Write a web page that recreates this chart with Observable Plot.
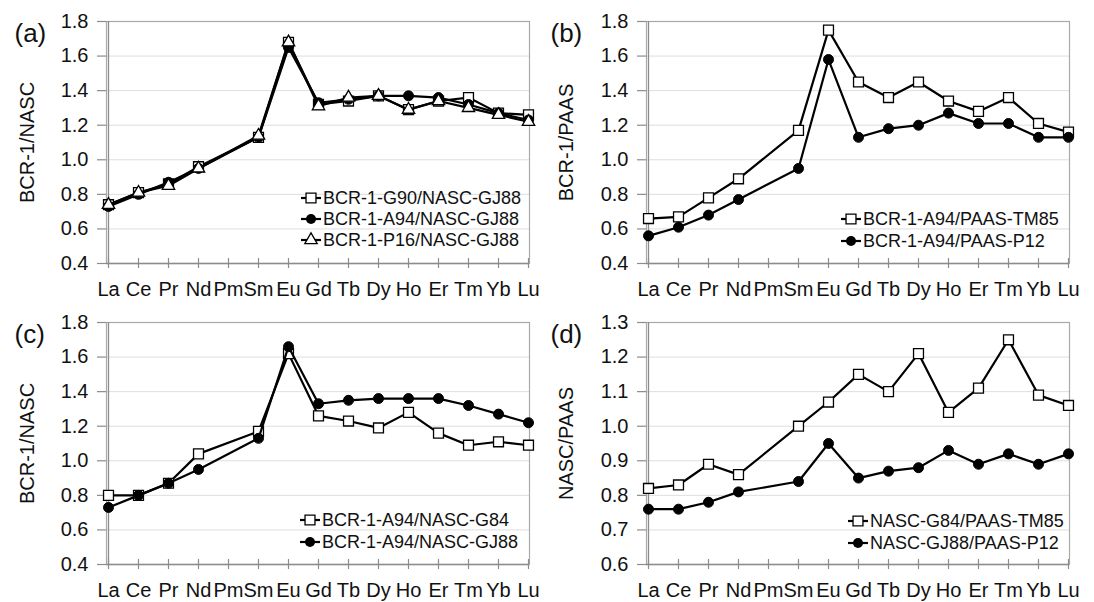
<!DOCTYPE html>
<html><head><meta charset="utf-8">
<script src="https://cdn.jsdelivr.net/npm/d3@7"></script>
<script src="https://cdn.jsdelivr.net/npm/@observablehq/plot@0.6"></script>
<style>
body{margin:0;background:#fff;}
#chart{position:relative;width:1094px;height:602px;background:#fff;font-family:"Liberation Sans",Arial,sans-serif;}
.panel{position:absolute;}
</style></head><body><div id="chart"></div>
<script>
const elements = ["La","Ce","Pr","Nd","Pm","Sm","Eu","Gd","Tb","Dy","Ho","Er","Tm","Yb","Lu"];

const ticksBCR = [0.4,0.6,0.8,1.0,1.2,1.4,1.6,1.8];
const ticksNASC = [0.6,0.7,0.8,0.9,1.0,1.1,1.2,1.3];

const a_G90 = [0.74,0.81,0.86,0.96,null,1.13,1.68,1.32,1.34,1.37,1.29,1.34,1.36,1.27,1.26];
const a_A94 = [0.73,0.80,0.87,0.95,null,1.13,1.65,1.33,1.35,1.37,1.37,1.36,1.32,1.27,1.23];
const a_P16 = [0.74,0.81,0.85,0.95,null,1.14,1.68,1.31,1.36,1.37,1.29,1.34,1.30,1.26,1.22];

const b_TM85 = [0.66,0.67,0.78,0.89,null,1.17,1.75,1.45,1.36,1.45,1.34,1.28,1.36,1.21,1.16];
const b_P12  = [0.56,0.61,0.68,0.77,null,0.95,1.58,1.13,1.18,1.20,1.27,1.21,1.21,1.13,1.13];

const c_G84  = [0.80,0.80,0.87,1.04,null,1.17,1.62,1.26,1.23,1.19,1.28,1.16,1.09,1.11,1.09];
const c_GJ88 = [0.73,0.80,0.87,0.95,null,1.13,1.66,1.33,1.35,1.36,1.36,1.36,1.32,1.27,1.22];

const d_TM85 = [0.82,0.83,0.89,0.86,null,1.00,1.07,1.15,1.10,1.21,1.04,1.11,1.25,1.09,1.06];
const d_P12  = [0.76,0.76,0.78,0.81,null,0.84,0.95,0.85,0.87,0.88,0.93,0.89,0.92,0.89,0.92];

const FONT = '"Liberation Sans", Arial, sans-serif';
const AXIS = "#8c8c8c";

const panels = [
  {tag:"(a)", left:0, top:0, ml:106, mr:18, tagX:14, labX:27, ylabel:"BCR-1/NASC", domain:[0.4,1.8], ticks:ticksBCR,
   series:[
     {name:"BCR-1-G90/NASC-GJ88", values:a_G90, symbol:"square"},
     {name:"BCR-1-A94/NASC-GJ88", values:a_A94, symbol:"circle"},
     {name:"BCR-1-P16/NASC-GJ88", values:a_P16, symbol:"triangle"}],
   legend:{x0:301, rows:[198,219,240]}},
  {tag:"(b)", left:547, top:0, ml:99, mr:25, tagX:3, labX:19, ylabel:"BCR-1/PAAS", domain:[0.4,1.8], ticks:ticksBCR,
   series:[
     {name:"BCR-1-A94/PAAS-TM85", values:b_TM85, symbol:"square"},
     {name:"BCR-1-A94/PAAS-P12", values:b_P12, symbol:"circle"}],
   legend:{x0:294, rows:[219,241]}},
  {tag:"(c)", left:0, top:301, ml:106, mr:18, tagX:14, labX:27, ylabel:"BCR-1/NASC", domain:[0.4,1.8], ticks:ticksBCR,
   series:[
     {name:"BCR-1-A94/NASC-G84", values:c_G84, symbol:"square"},
     {name:"BCR-1-A94/NASC-GJ88", values:c_GJ88, symbol:"circle"}],
   legend:{x0:300, rows:[219,241]}},
  {tag:"(d)", left:547, top:301, ml:99, mr:25, tagX:3, labX:19, ylabel:"NASC/PAAS", domain:[0.6,1.3], ticks:ticksNASC,
   series:[
     {name:"NASC-G84/PAAS-TM85", values:d_TM85, symbol:"square"},
     {name:"NASC-GJ88/PAAS-P12", values:d_P12, symbol:"circle"}],
   legend:{x0:301, rows:[220,242]}}
];

function dotStyle(sym){
  if (sym === "circle") return {symbol:"circle", r:5, fill:"black", stroke:"black", strokeWidth:1};
  if (sym === "square") return {symbol:"square", r:5.6, fill:"white", stroke:"black", strokeWidth:1.3};
  return {symbol:"triangle", r:4.6, fill:"white", stroke:"black", strokeWidth:1.3};
}

function drawPanel(p){
  const W = 547, H = 301, mt = 21, mb = 38;
  const innerH = H - mt - mb;
  const seriesMarks = [];
  for (const s of p.series) {
    const rows = elements.map((el, i) => ({el, v: s.values[i]})).filter(d => d.v != null);
    seriesMarks.push(Plot.line(rows, {x:"el", y:"v", stroke:"black", strokeWidth:2.2}));
    seriesMarks.push(Plot.dot(rows, {x:"el", y:"v", ...dotStyle(s.symbol)}));
  }
  const svg = Plot.plot({
    width: W, height: H,
    marginLeft: p.ml, marginRight: p.mr, marginTop: mt, marginBottom: mb,
    style: {fontFamily: FONT, fontSize: "20px", color: "#111", background: "white", overflow: "visible"},
    x: {type:"point", domain: elements, padding: 0, axis: null},
    y: {domain: p.domain, axis: null},
    marks: [
      Plot.gridY(p.ticks, {stroke:"#dedede", strokeOpacity:1, strokeWidth:1}),
      Plot.frame({stroke:"#a9a9a9", strokeWidth:1.2}),
      Plot.ruleX([elements[0]], {stroke:AXIS, strokeWidth:1.3}),
      Plot.ruleY([p.domain[0]], {stroke:AXIS, strokeWidth:1.3}),
      Plot.tickX(elements, {x:d=>d, stroke:AXIS, strokeWidth:1.2, insetTop: innerH - 5}),
      Plot.axisX(elements, {tickSize:5, tickPadding:13, stroke:AXIS, strokeWidth:1.2, fill:"#111", fontSize:20, label:null}),
      Plot.axisY(p.ticks, {tickSize:9, tickPadding:9, tickFormat:d3.format(".1f"), stroke:AXIS, strokeWidth:1.2, fill:"#111", fontSize:20, label:null}),
      ...seriesMarks,
      Plot.text([p.ylabel], {frameAnchor:"left", dx: p.labX - p.ml, rotate:-90, text:d=>d, fontSize:20, textAnchor:"middle", fill:"#111"}),
      Plot.text([p.tag], {frameAnchor:"top-left", dx: p.tagX - p.ml, dy: 2, text:d=>d, fontSize:26, textAnchor:"start", fill:"#111"})
    ]
  });
  svg.classList.add("panel");
  svg.style.left = p.left + "px";
  svg.style.top = p.top + "px";

  // legend
  const g = d3.select(svg).append("g").attr("class","legend").attr("text-anchor","start");
  p.series.forEach((s, i) => {
    const y = p.legend.rows[i], x0 = p.legend.x0, x1 = x0 + 20, cx = x0 + 10;
    g.append("line").attr("x1", x0).attr("x2", x1).attr("y1", y).attr("y2", y)
      .attr("stroke","black").attr("stroke-width",2.2);
    const st = dotStyle(s.symbol);
    if (s.symbol === "circle") {
      g.append("circle").attr("cx", cx).attr("cy", y).attr("r", st.r).attr("fill","black");
    } else {
      const type = s.symbol === "square" ? d3.symbolSquare : d3.symbolTriangle;
      g.append("path").attr("d", d3.symbol(type, st.r * st.r * Math.PI)())
        .attr("transform", `translate(${cx},${y})`)
        .attr("fill","white").attr("stroke","black").attr("stroke-width",st.strokeWidth);
    }
    g.append("text").attr("x", x1 + 2).attr("y", y).attr("dy","0.35em")
      .attr("text-anchor","start")
      .attr("font-size", 18).attr("fill","#111").attr("font-family", FONT).text(s.name);
  });
  document.getElementById("chart").appendChild(svg);
}

panels.forEach(drawPanel);
</script></body></html>
